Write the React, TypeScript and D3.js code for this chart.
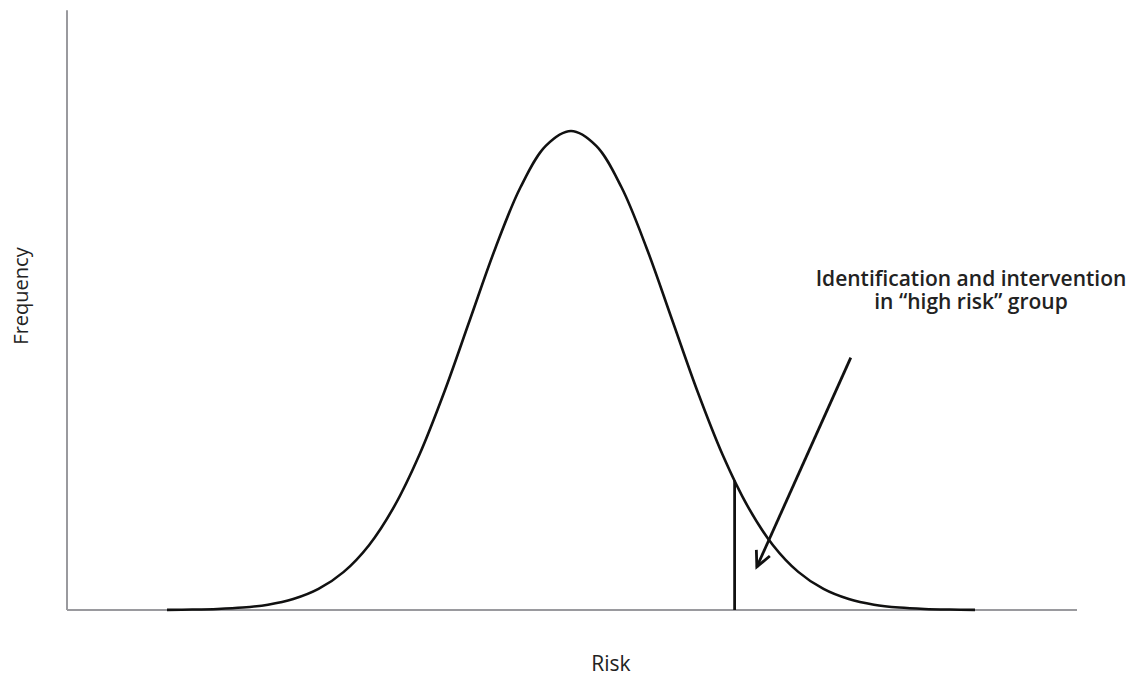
import React from "react";
import * as d3 from "d3";

// Risk expressed in standard deviations from the population mean
const riskValues = [-4, -3.75, -3.5, -3.25, -3, -2.75, -2.5, -2.25, -2, -1.75, -1.5, -1.25, -1, -0.75, -0.5, -0.25, 0, 0.25, 0.5, 0.75, 1, 1.25, 1.5, 1.75, 2, 2.25, 2.5, 2.75, 3, 3.25, 3.5, 3.75, 4];
// Relative frequency
const frequencyValues = [0.0003, 0.0009, 0.0022, 0.0051, 0.0111, 0.0228, 0.0439, 0.0796, 0.1353, 0.2163, 0.3247, 0.4578, 0.6065, 0.7548, 0.8825, 0.969, 1, 0.969, 0.8825, 0.7548, 0.6065, 0.4578, 0.3247, 0.2163, 0.1353, 0.0796, 0.0439, 0.0228, 0.0111, 0.0051, 0.0022, 0.0009, 0.0003];

// High-risk cutoff and its frequency on the curve
const cutoffRisk = [1.62];
const cutoffFrequency = [0.27];

// Annotation arrow (risk, frequency) from label towards tail
const arrowFrom = [2.77, 0.527];
const arrowTo = [1.84, 0.09];

const annotationLines = ["Identification and intervention", "in \u201chigh risk\u201d group"];
const xTitle = "Risk";
const yTitle = "Frequency";

export default function App() {
  const W = 1135, H = 676;
  const x = d3.scaleLinear().domain([-4, 4]).range([167, 975]);
  const y = d3.scaleLinear().domain([0, 1]).range([610, 131]);

  const pts = riskValues.map((r, i) => [r, frequencyValues[i]] as [number, number]);
  const line = d3.line<[number, number]>()
    .x(d => x(d[0]))
    .y(d => y(d[1]))
    .curve(d3.curveCatmullRom.alpha(0.5));

  const axisX0 = x(-4) - 100;
  const axisX1 = x(4) + 102;
  const axisTop = y(1.25) - 1;

  const ax = x(arrowFrom[0]), ay = y(arrowFrom[1]);
  const bx = x(arrowTo[0]), by = y(arrowTo[1]);
  const ang = Math.atan2(by - ay, bx - ax);
  const hl = 17, ha = 0.45;
  const h1 = [bx - hl * Math.cos(ang - ha), by - hl * Math.sin(ang - ha)];
  const h2 = [bx - hl * Math.cos(ang + ha), by - hl * Math.sin(ang + ha)];

  const font = "'Open Sans', 'Noto Sans', sans-serif";

  return (
    <svg width={W} height={H} style={{ position: "absolute", left: 0, top: 0, background: "#fff" }}>
      {/* axes */}
      <line x1={axisX0} y1={axisTop} x2={axisX0} y2={y(0)} stroke="#9a9a9e" strokeWidth={2} />
      <line x1={axisX0} y1={y(0)} x2={axisX1} y2={y(0)} stroke="#9a9a9e" strokeWidth={2} />
      {/* curve */}
      <path d={line(pts) || ""} fill="none" stroke="#111" strokeWidth={2.6} />
      {/* cutoff */}
      <line x1={x(cutoffRisk[0])} y1={y(0)} x2={x(cutoffRisk[0])} y2={y(cutoffFrequency[0])} stroke="#111" strokeWidth={2.8} />
      {/* arrow */}
      <line x1={ax} y1={ay} x2={bx} y2={by} stroke="#111" strokeWidth={2.8} />
      <polyline points={`${h1[0]},${h1[1]} ${bx},${by} ${h2[0]},${h2[1]}`} fill="none" stroke="#111" strokeWidth={2.8} />
      {/* annotation */}
      <text x={971} y={286} textAnchor="middle" fontFamily={font} fontWeight={600} fontSize={21} fill="#222">
        {annotationLines.map((t, i) => (
          <tspan key={i} x={971} dy={i === 0 ? 0 : 22.5}>{t}</tspan>
        ))}
      </text>
      {/* axis titles */}
      <text x={611} y={671} textAnchor="middle" fontFamily={font} fontWeight={500} fontSize={21} fill="#222">{xTitle}</text>
      <text transform={`translate(28,296) rotate(-90)`} textAnchor="middle" fontFamily={font} fontWeight={500} fontSize={20} fill="#222">{yTitle}</text>
    </svg>
  );
}
